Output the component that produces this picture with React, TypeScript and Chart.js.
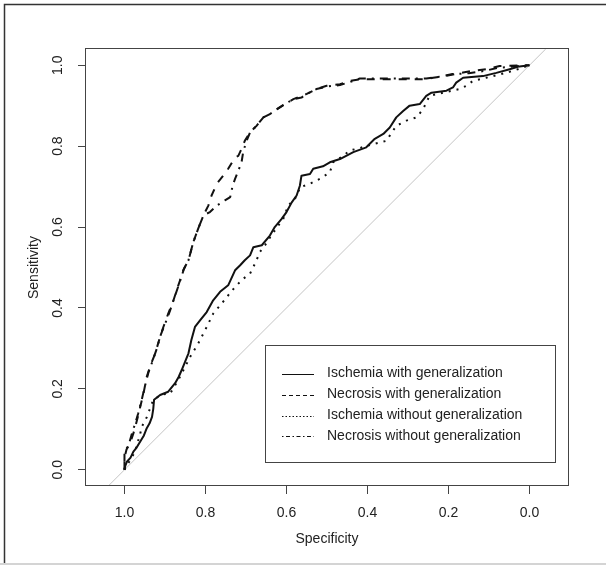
import React, { useEffect, useRef } from "react";
import { Chart, registerables } from "chart.js";

Chart.register(...registerables);

// ---------- tick labels ----------
const xTicks = [1.0, 0.8, 0.6, 0.4, 0.2, 0.0];
const yTicks = [0.0, 0.2, 0.4, 0.6, 0.8, 1.0];

// ---------- legend labels ----------
const seriesNames = [
  "Ischemia with generalization",
  "Necrosis with generalization",
  "Ischemia without generalization",
  "Necrosis without generalization",
];

// ---------- Ischemia with generalization (solid) ----------
const ischemiaGenSpec = [1.0, 0.998, 0.994, 0.985, 0.978, 0.97, 0.961, 0.952, 0.945, 0.938, 0.932, 0.929, 0.927, 0.912, 0.892, 0.875, 0.866, 0.859, 0.85, 0.842, 0.835, 0.826, 0.813, 0.797, 0.781, 0.764, 0.744, 0.727, 0.715, 0.703, 0.69, 0.682, 0.661, 0.641, 0.629, 0.612, 0.6, 0.587, 0.575, 0.567, 0.563, 0.542, 0.534, 0.51, 0.493, 0.468, 0.435, 0.403, 0.382, 0.361, 0.345, 0.329, 0.312, 0.296, 0.271, 0.255, 0.242, 0.205, 0.189, 0.181, 0.164, 0.115, 0.082, 0.049, 0.025, 0.0];
const ischemiaGenSens = [0.0, 0.01, 0.02, 0.03, 0.045, 0.055, 0.07, 0.085, 0.103, 0.115, 0.131, 0.15, 0.173, 0.185, 0.193, 0.214, 0.23, 0.246, 0.268, 0.288, 0.32, 0.353, 0.37, 0.39, 0.419, 0.44, 0.456, 0.493, 0.505, 0.518, 0.53, 0.55, 0.555, 0.579, 0.6, 0.62, 0.637, 0.661, 0.678, 0.702, 0.727, 0.731, 0.744, 0.75, 0.76, 0.768, 0.785, 0.797, 0.818, 0.83, 0.846, 0.871, 0.887, 0.9, 0.904, 0.924, 0.932, 0.937, 0.945, 0.957, 0.969, 0.973, 0.981, 0.99, 0.997, 1.0];

// ---------- Necrosis with generalization (dashed) ----------
const necrosisGenSpec = [1.0, 1.0, 0.995, 0.986, 0.978, 0.969, 0.961, 0.953, 0.945, 0.937, 0.924, 0.912, 0.904, 0.892, 0.879, 0.871, 0.863, 0.855, 0.842, 0.83, 0.818, 0.805, 0.793, 0.785, 0.772, 0.756, 0.744, 0.727, 0.719, 0.711, 0.703, 0.69, 0.674, 0.657, 0.641, 0.624, 0.604, 0.583, 0.563, 0.55, 0.526, 0.501, 0.468, 0.444, 0.419, 0.255, 0.238, 0.205, 0.164, 0.14, 0.107, 0.074, 0.0];
const necrosisGenSens = [0.0, 0.03, 0.05, 0.066, 0.09, 0.123, 0.156, 0.189, 0.23, 0.255, 0.288, 0.329, 0.353, 0.386, 0.419, 0.444, 0.468, 0.493, 0.518, 0.563, 0.596, 0.629, 0.653, 0.678, 0.707, 0.727, 0.744, 0.772, 0.776, 0.793, 0.813, 0.834, 0.85, 0.871, 0.879, 0.891, 0.904, 0.916, 0.924, 0.929, 0.941, 0.949, 0.953, 0.961, 0.965, 0.965, 0.969, 0.974, 0.982, 0.986, 0.99, 0.998, 1.0];

// ---------- Ischemia without generalization (dotted) ----------
const ischemiaNoGenSpec = [1.0, 0.995, 0.985, 0.974, 0.961, 0.957, 0.945, 0.93, 0.912, 0.887, 0.867, 0.85, 0.838, 0.818, 0.797, 0.781, 0.76, 0.744, 0.727, 0.707, 0.69, 0.682, 0.674, 0.666, 0.653, 0.637, 0.62, 0.608, 0.596, 0.579, 0.571, 0.567, 0.542, 0.518, 0.493, 0.485, 0.46, 0.444, 0.42, 0.386, 0.353, 0.345, 0.329, 0.304, 0.279, 0.263, 0.247, 0.214, 0.173, 0.156, 0.14, 0.107, 0.074, 0.041, 0.0];
const ischemiaNoGenSens = [0.0, 0.01, 0.025, 0.045, 0.09, 0.107, 0.13, 0.17, 0.185, 0.189, 0.222, 0.255, 0.279, 0.312, 0.353, 0.386, 0.411, 0.431, 0.452, 0.472, 0.485, 0.501, 0.518, 0.538, 0.555, 0.58, 0.604, 0.62, 0.653, 0.67, 0.686, 0.698, 0.707, 0.719, 0.735, 0.76, 0.776, 0.789, 0.795, 0.805, 0.813, 0.826, 0.85, 0.863, 0.871, 0.891, 0.924, 0.932, 0.941, 0.949, 0.961, 0.969, 0.977, 0.986, 1.0];

// ---------- Necrosis without generalization (dot-dash) ----------
const necrosisNoGenSpec = [1.0, 1.0, 0.99, 0.983, 0.975, 0.966, 0.957, 0.95, 0.941, 0.932, 0.92, 0.91, 0.9, 0.888, 0.877, 0.869, 0.861, 0.853, 0.842, 0.83, 0.818, 0.805, 0.789, 0.772, 0.752, 0.739, 0.733, 0.727, 0.719, 0.711, 0.707, 0.7, 0.69, 0.674, 0.657, 0.641, 0.624, 0.604, 0.583, 0.563, 0.55, 0.526, 0.501, 0.468, 0.444, 0.419, 0.3, 0.255, 0.22, 0.19, 0.15, 0.11, 0.08, 0.0];
const necrosisNoGenSens = [0.0, 0.045, 0.06, 0.085, 0.11, 0.14, 0.175, 0.205, 0.24, 0.265, 0.3, 0.335, 0.36, 0.392, 0.425, 0.448, 0.472, 0.497, 0.518, 0.563, 0.596, 0.629, 0.637, 0.653, 0.666, 0.674, 0.702, 0.719, 0.739, 0.76, 0.785, 0.809, 0.834, 0.85, 0.871, 0.879, 0.891, 0.904, 0.916, 0.92, 0.929, 0.941, 0.947, 0.951, 0.958, 0.967, 0.967, 0.967, 0.972, 0.978, 0.98, 0.986, 0.993, 1.0];

// ---------- chance line (specificity, sensitivity) ----------
const chanceSpec = [1.04, -0.04];
const chanceSens = [-0.04, 1.04];

const toPoints = (xs: number[], ys: number[]) => xs.map((x, i) => ({ x, y: ys[i] }));

const FONT = "'Liberation Sans', Arial, Helvetica, sans-serif";
const INK = "#222222";
const AXIS = "#444444";

const dashes: number[][] = [[], [8, 8], [2, 6], [2, 6, 8, 6]];
const legendDashes: number[][] = [[], [4, 3], [1.5, 2], [1.5, 2.5, 4, 2.5]];

const framePlugin = {
  id: "frame",
  beforeDraw(chart: any) {
    const { ctx, width, height } = chart;
    ctx.save();
    ctx.fillStyle = "#ffffff";
    ctx.fillRect(0, 0, width, height);
    ctx.strokeStyle = "#333333";
    ctx.lineWidth = 1.5;
    ctx.beginPath();
    ctx.moveTo(4.5, height - 2);
    ctx.lineTo(4.5, 4.5);
    ctx.lineTo(width, 4.5);
    ctx.stroke();
    ctx.strokeStyle = "#d4d4d4";
    ctx.lineWidth = 2;
    ctx.beginPath();
    ctx.moveTo(0, height - 2);
    ctx.lineTo(width, height - 2);
    ctx.stroke();
    ctx.restore();
  },
};

const boxLegendPlugin = {
  id: "boxLegend",
  afterDraw(chart: any) {
    const { ctx, chartArea } = chart;
    ctx.save();
    ctx.strokeStyle = AXIS;
    ctx.lineWidth = 1;
    ctx.setLineDash([]);
    const l = Math.floor(chartArea.left) - 0.5;
    const t = Math.floor(chartArea.top) - 0.5;
    const r = Math.floor(chartArea.right) + 0.5;
    const b = Math.floor(chartArea.bottom) - 0.5;
    ctx.strokeRect(l, t, r - l, b - t);

    // legend box
    const lx = 265.5, ly = 345.5, lw = 290, lh = 117;
    ctx.strokeRect(lx, ly, lw, lh);
    const rows = [373.5, 394.5, 415.5, 436];
    ctx.font = `14px ${FONT}`;
    ctx.fillStyle = INK;
    ctx.textBaseline = "middle";
    ctx.textAlign = "left";
    seriesNames.forEach((name, i) => {
      ctx.strokeStyle = "#111111";
      ctx.lineWidth = 1;
      ctx.setLineDash(legendDashes[i]);
      ctx.beginPath();
      ctx.moveTo(282, Math.round(rows[i]) + 0.5);
      ctx.lineTo(314, Math.round(rows[i]) + 0.5);
      ctx.stroke();
      ctx.setLineDash([]);
      ctx.fillText(name, 327, rows[i]);
    });
    ctx.restore();
  },
};

export default function App() {
  const ref = useRef<HTMLCanvasElement | null>(null);

  useEffect(() => {
    if (!ref.current) return;
    const series = [
      toPoints(ischemiaGenSpec, ischemiaGenSens),
      toPoints(necrosisGenSpec, necrosisGenSens),
      toPoints(ischemiaNoGenSpec, ischemiaNoGenSens),
      toPoints(necrosisNoGenSpec, necrosisNoGenSens),
    ];
    const datasets: any[] = series.map((data, i) => ({
      label: seriesNames[i],
      data,
      showLine: true,
      borderColor: "#111111",
      backgroundColor: "#111111",
      borderWidth: 2,
      borderDash: dashes[i],
      borderJoinStyle: "round",
      borderCapStyle: "butt",
      pointRadius: 0,
      tension: 0,
      order: i,
    }));
    datasets.push({
      label: "chance",
      data: toPoints(chanceSpec, chanceSens),
      showLine: true,
      borderColor: "#c4c4c4",
      borderWidth: 1,
      pointRadius: 0,
      order: 10,
    });

    const chart = new Chart(ref.current, {
      type: "scatter",
      data: { datasets },
      plugins: [framePlugin, boxLegendPlugin],
      options: {
        animation: false,
        responsive: false,
        maintainAspectRatio: false,
        layout: { padding: { left: 0, top: 49, right: 38, bottom: 0 } },
        plugins: { legend: { display: false }, tooltip: { enabled: false } },
        scales: {
          x: {
            type: "linear",
            reverse: true,
            min: -0.095,
            max: 1.095,
            afterBuildTicks: (scale: any) => {
              scale.ticks = xTicks.map((v) => ({ value: v }));
            },
            afterFit: (scale: any) => {
              scale.height = 80;
            },
            border: { display: false },
            grid: {
              display: true,
              drawOnChartArea: false,
              drawTicks: true,
              tickLength: 8,
              tickColor: AXIS,
              color: AXIS,
            },
            ticks: {
              padding: 10.5,
              color: INK,
              font: { family: FONT, size: 14 },
              maxRotation: 0,
              minRotation: 0,
              callback: (v: any) => Number(v).toFixed(1),
            },
            title: {
              display: true,
              text: "Specificity",
              color: INK,
              font: { family: FONT, size: 14 },
              padding: { top: 0, bottom: 18.6 },
            },
          },
          y: {
            type: "linear",
            min: -0.04,
            max: 1.04,
            afterBuildTicks: (scale: any) => {
              scale.ticks = yTicks.map((v) => ({ value: v }));
            },
            afterFit: (scale: any) => {
              scale.width = 86;
            },
            border: { display: false },
            grid: {
              display: true,
              drawOnChartArea: false,
              drawTicks: true,
              tickLength: 8,
              tickColor: AXIS,
              color: AXIS,
            },
            ticks: {
              padding: 10.3,
              color: INK,
              font: { family: FONT, size: 14 },
              minRotation: 90,
              maxRotation: 90,
              crossAlign: "center",
              callback: (v: any) => Number(v).toFixed(1),
            },
            title: {
              display: true,
              text: "Sensitivity",
              color: INK,
              font: { family: FONT, size: 14 },
              padding: { top: 25.6, bottom: 0 },
            },
          },
        },
      } as any,
    });
    return () => chart.destroy();
  }, []);

  return (
    <div style={{ position: "fixed", left: 0, top: 0, width: 606, height: 566, background: "#fff" }}>
      <canvas ref={ref} width={606} height={566} style={{ display: "block", width: 606, height: 566 }} />
    </div>
  );
}
